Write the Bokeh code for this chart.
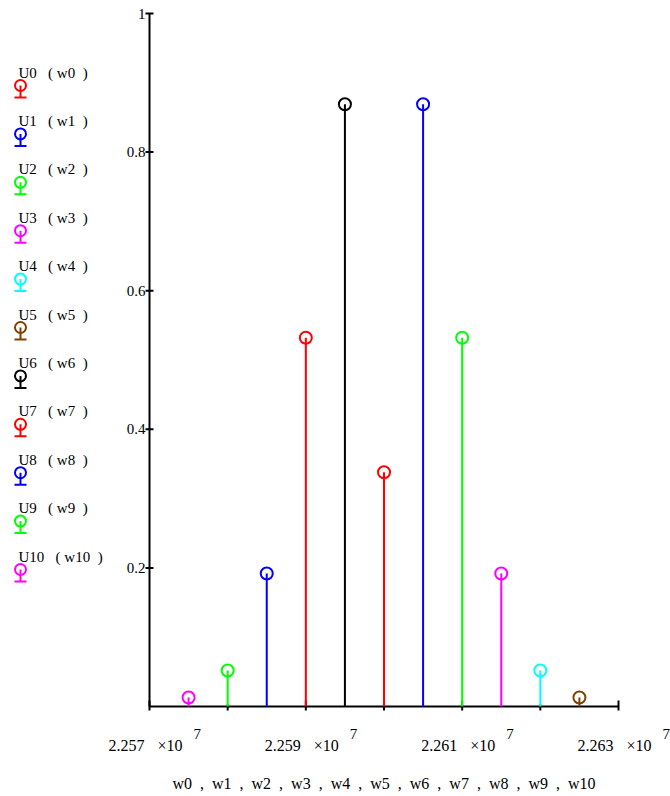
from bokeh.plotting import figure
from bokeh.models import Range1d, Grid
from bokeh.core.properties import value
from bokeh.embed import file_html
from bokeh.resources import INLINE

# ---- data ----
trace_names = ["U0", "U1", "U2", "U3", "U4", "U5", "U6", "U7", "U8", "U9", "U10"]
w_names = ["w0", "w1", "w2", "w3", "w4", "w5", "w6", "w7", "w8", "w9", "w10"]
w = [22600000, 22605000, 22610000, 22615000, 22620000, 22625000,
     22595000, 22590000, 22585000, 22580000, 22575000]
U = [0.338, 0.869, 0.532, 0.192, 0.052, 0.013,
     0.869, 0.532, 0.192, 0.052, 0.013]
colors = ["#ff0000", "#0000ff", "#00ff00", "#ff00ff", "#00ffff", "#804000",
          "#000000", "#ff0000", "#0000ff", "#00ff00", "#ff00ff"]

x_major = [22570000, 22590000, 22610000, 22630000]
x_major_labels = ["2.257", "2.259", "2.261", "2.263"]
x_minor = [22580000, 22600000, 22620000]
y_ticks = [0.2, 0.4, 0.6, 0.8, 1.0]
y_tick_labels = ["0.2", "0.4", "0.6", "0.8", "1"]
x_title = "w0  ,  w1  ,  w2  ,  w3  ,  w4  ,  w5  ,  w6  ,  w7  ,  w8  ,  w9  ,  w10"

# ---- layout (canvas pixels) ----
W, H = 670, 796
L, R, T, B = 149, 618, 13, 706
X0, X1 = x_major[0], x_major[-1]
kx = (X1 - X0) / (R - L)
ky = 1.0 / (B - T)
xr = Range1d(X0 - L * kx, X0 + (W - L) * kx)
yr = Range1d(-(H - B) * ky, 1 + T * ky)


def px_x(cx):
    return xr.start + cx * kx


def px_y(cy):
    return 1 - (cy - T) * ky


FONT = value("Liberation Serif")
NB = "\u00a0"

p = figure(width=W, height=H, x_range=xr, y_range=yr, min_border=0,
           toolbar_location=None, output_backend="svg",
           x_axis_location=None, y_axis_location=None,
           outline_line_color=None, background_fill_color="white",
           border_fill_color="white")
for g in p.select(type=Grid):
    g.visible = False

# axes lines
p.segment(x0=[X0, X0], y0=[0, 0], x1=[X1, X0], y1=[0, 1],
          line_color="black", line_width=2)
# x ticks
p.segment(x0=x_major, y0=[-4 * ky] * len(x_major), x1=x_major,
          y1=[6 * ky] * len(x_major), line_color="black", line_width=2)
p.segment(x0=x_minor, y0=[-4 * ky] * len(x_minor), x1=x_minor,
          y1=[2 * ky] * len(x_minor), line_color="black", line_width=2)
# y ticks
p.segment(x0=[X0 - 4 * kx] * len(y_ticks), y0=y_ticks,
          x1=[X0 + 4 * kx] * len(y_ticks), y1=y_ticks,
          line_color="black", line_width=2)

# tick labels
p.text(x=[X0] * len(y_ticks), y=y_ticks, text=y_tick_labels, x_offset=-4,
       text_align="right", text_baseline="middle", text_font=FONT,
       text_font_size="15px", text_color="black")
p.text(x=x_major, y=[0] * len(x_major), text=x_major_labels, x_offset=-5,
       y_offset=39, text_align="right", text_baseline="middle",
       text_font=FONT, text_font_size="16px", text_color="black")
p.text(x=x_major, y=[0] * len(x_major), text=["\u00d710"] * len(x_major),
       x_offset=8, y_offset=39, text_align="left", text_baseline="middle",
       text_font=FONT, text_font_size="16px", text_color="black")
p.text(x=x_major, y=[0] * len(x_major), text=["7"] * len(x_major),
       x_offset=44, y_offset=27, text_align="left", text_baseline="middle",
       text_font=FONT, text_font_size="15px", text_color="black")
p.text(x=[(X0 + X1) / 2], y=[0], text=[x_title.replace("  ", NB + " ")],
       y_offset=77, text_align="center", text_baseline="middle",
       text_font=FONT, text_font_size="16px", text_color="black")

# stems
p.segment(x0=w, y0=[0] * len(w), x1=w, y1=U, line_color=colors, line_width=2)
p.scatter(x=w, y=U, marker="circle", size=12, fill_color=None,
          line_color=colors, line_width=2)

# legend (left margin)
step = 48.4
n = len(trace_names)
leg_labels = [f"{a}{NB}{NB} ( {b}{NB} )" for a, b in zip(trace_names, w_names)]
p.text(x=[px_x(18)] * n, y=[px_y(72 + i * step) for i in range(n)],
       text=leg_labels, text_align="left", text_baseline="middle",
       text_font=FONT, text_font_size="15px", text_color="black")
cxs = [px_x(20)] * n
cys = [px_y(85 + i * step) for i in range(n)]
bys = [px_y(97 + i * step) for i in range(n)]
p.scatter(x=cxs, y=cys, marker="circle", size=11, fill_color=None,
          line_color=colors, line_width=2)
p.segment(x0=cxs, y0=cys, x1=cxs, y1=bys, line_color=colors, line_width=2)
p.segment(x0=[px_x(14)] * n, y0=bys, x1=[px_x(26)] * n, y1=bys,
          line_color=colors, line_width=2)

open("out.html", "w").write(file_html(p, INLINE))
